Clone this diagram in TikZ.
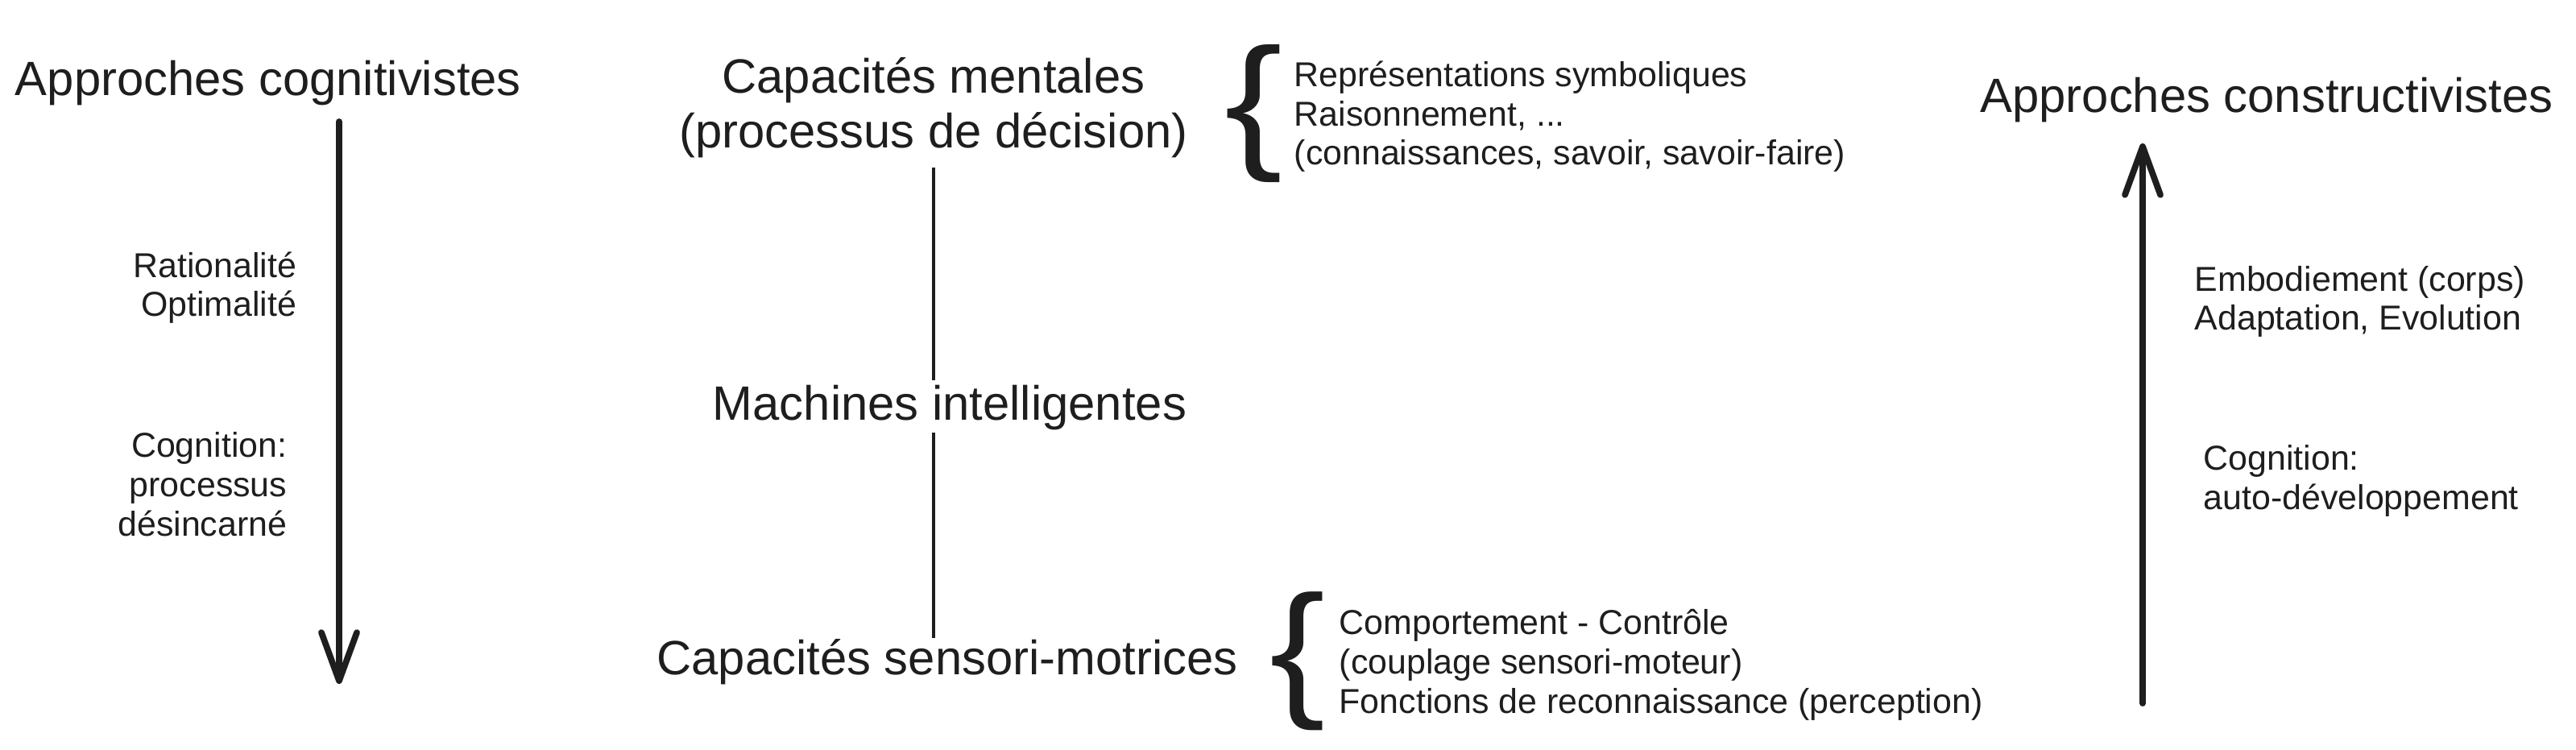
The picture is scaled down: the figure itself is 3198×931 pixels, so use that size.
\documentclass[tikz,border=0pt]{standalone}
\usepackage{fontspec}
\setmainfont{Liberation Sans}
\usetikzlibrary{arrows.meta}
\definecolor{ink}{HTML}{1E1E1E}
\newcommand{\bigfont}{\fontsize{17}{19.4}\selectfont}
\newcommand{\smallfont}{\fontsize{12.2}{13.8}\selectfont}

\begin{document}
\begin{tikzpicture}[x=0.01cm,y=-0.01cm,
    every node/.style={inner sep=0pt,text=ink},
    title/.style={font=\bigfont,anchor=base,align=center},
    note/.style={font=\smallfont,anchor=base west,align=left},
    noteR/.style={font=\smallfont,anchor=base east,align=right},
    bigarrow/.style={ink,line width=2.2pt,line cap=round,-{Straight Barb[length=0.6cm,width=0.44cm,round]}},
    link/.style={ink,line width=1.2pt}]
  \useasboundingbox (0,0) rectangle (3198,931);

  % left column
  \node[title] (cogn) at (333,119) {Approches cognitivistes};
  \coordinate (ltop) at (421,151);
  \coordinate (lbot) at (421,849);
  \draw[bigarrow] (ltop) -- (lbot);
  \node[noteR] (ratio) at (369,393) {Rationalité\\Optimalité};
  \node[noteR] (cogl) at (357,665) {Cognition:\\processus\\désincarné};

  % middle column
  \node[title] (ment) at (1159,184) {Capacités mentales\\(processus de décision)};
  \node[title] (mach) at (1179,522) {Machines intelligentes};
  \node[title] (sens) at (1176,837) {Capacités sensori-motrices};
  \draw[link,shorten <=3pt,shorten >=1.7pt] (ment.south) -- (ment.south |- mach.north);
  \draw[link,shorten <=0.6pt] (ment.south |- mach.south) -- (ment.south |- sens.north);

  % braces
  \node (btop) at (1556,141) {\resizebox*{0.72cm}{1.71cm}{\{}};
  \node[note] (symb) at (1606,205) {Représentations symboliques\\Raisonnement, ...\\(connaissances, savoir, savoir-faire)};
  \node (bbot) at (1611,821) {\resizebox*{0.69cm}{1.72cm}{\{}};
  \node[note] (ctrl) at (1662,885) {Comportement - Contrôle\\(couplage sensori-moteur)\\Fonctions de reconnaissance (perception)};

  % right column
  \node[title] (cstr) at (2814,140) {Approches constructivistes};
  \coordinate (rbot) at (2660,873);
  \coordinate (rtop) at (2660,178);
  \draw[bigarrow] (rbot) -- (rtop);
  \node[note] (embo) at (2724,410) {Embodiement (corps)\\Adaptation, Evolution};
  \node[note] (cogr) at (2735,632) {Cognition:\\auto-développement};
\end{tikzpicture}
\end{document}
